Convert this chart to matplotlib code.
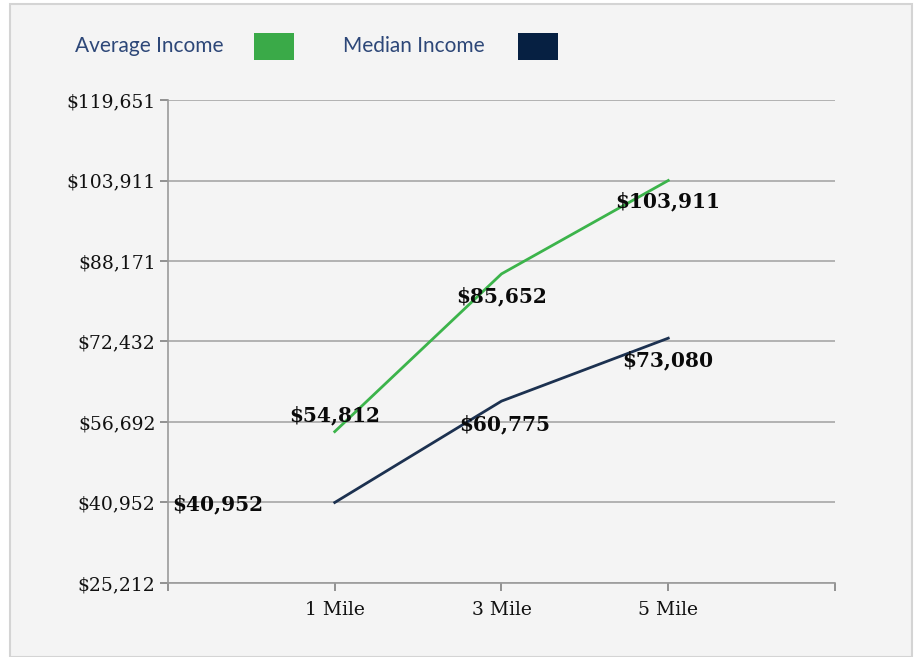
import matplotlib.pyplot as plt
from matplotlib.patches import Rectangle

# data
categories = ['1 Mile', '3 Mile', '5 Mile']
average_income = [54812, 85652, 103911]
median_income = [40952, 60775, 73080]
y_ticks = [25212, 40952, 56692, 72432, 88171, 103911, 119651]

W, H = 917, 657
fig = plt.figure(figsize=(W / 100, H / 100), dpi=100)
fig.patch.set_facecolor('white')

# grey panel with thin border (behind the axes)
fig.patches.append(Rectangle((10 / W, 0), 902 / W, 1 - 4 / H, transform=fig.transFigure,
                             facecolor='#f4f4f4', edgecolor='#d4d4d4', lw=1.5, zorder=-5))

ax = fig.add_axes([168 / W, 1 - 583 / H, (835 - 168) / W, (583 - 100) / H])
ax.set_facecolor('none')

x = [1, 2, 3]
green = '#3cb44b'
navy = '#1c3150'
ax.plot(x, average_income, color=green, lw=2.0, zorder=3)
ax.plot(x, median_income, color=navy, lw=2.0, zorder=3)

ax.set_xlim(0, 4)
ax.set_ylim(y_ticks[0], y_ticks[-1])
ax.set_yticks(y_ticks)
ax.set_yticklabels([f'${v:,}' for v in y_ticks])
ax.set_xticks([0, 1, 2, 3, 4])
ax.set_xticklabels([''] + categories + [''])

ax.grid(axis='y', color='#a6a6a6', lw=1.2)
ax.set_axisbelow(True)
for s in ['top', 'right']:
    ax.spines[s].set_visible(False)
for s in ['left', 'bottom']:
    ax.spines[s].set_color('#9a9a9a')
    ax.spines[s].set_linewidth(1.2)
ax.tick_params(axis='both', colors='#808080', length=6, width=1.2, labelcolor='#111111',
               labelsize=13.5)
ax.tick_params(axis='x', pad=7)
ax.tick_params(axis='y', pad=3)
for lbl in ax.get_yticklabels() + ax.get_xticklabels():
    lbl.set_family('DejaVu Serif')

# data labels (offsets in points)
lab_kw = dict(ha='center', va='center', fontsize=14.5, fontweight='bold',
              family='DejaVu Serif', color='#0a0a0a', zorder=4)
avg_off = [(0, 12), (0, -16), (0, -15)]
med_off = [(-84, -1), (2, -17), (0, -16)]
for xi, v, o in zip(x, average_income, avg_off):
    ax.annotate(f'${v:,}', (xi, v), xytext=o, textcoords='offset points', **lab_kw)
for xi, v, o in zip(x, median_income, med_off):
    ax.annotate(f'${v:,}', (xi, v), xytext=o, textcoords='offset points', **lab_kw)

# legend drawn manually across the top
leg_color = '#2d4778'
fig.text(75 / W, 1 - 46 / H, 'Average Income', color=leg_color, fontsize=15,
         family='Lato', va='center', ha='left')
fig.patches.append(Rectangle((254 / W, 1 - 60 / H), 40 / W, 27 / H, transform=fig.transFigure,
                             facecolor='#3aaa48', edgecolor='none'))
fig.text(343 / W, 1 - 46 / H, 'Median Income', color=leg_color, fontsize=15,
         family='Lato', va='center', ha='left')
fig.patches.append(Rectangle((518 / W, 1 - 60 / H), 40 / W, 27 / H, transform=fig.transFigure,
                             facecolor='#062042', edgecolor='none'))

fig.savefig('out.png', dpi=100)
